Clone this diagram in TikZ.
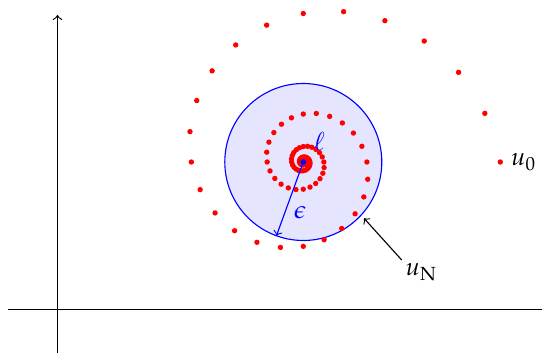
\documentclass[tikz,border=0pt]{standalone}
\usepackage{mathpazo}
\usetikzlibrary{calc}
\begin{document}
\begin{tikzpicture}[x=0.4pt,y=0.4pt,
  reddot/.style={fill=red},
  axis/.style={line width=0.5pt},
  lbl/.style={inner sep=0pt}]
\useasboundingbox (0,0) rectangle (542,353);
% axes
\coordinate (xl) at (8.3,43.7);
\coordinate (xr) at (542,43.7);
\coordinate (yb) at (57.5,0);
\coordinate (yt) at (57.5,338);
\draw[axis] (xl) -- (xr);
\draw[axis,->] (yb) -- (yt);
% neighbourhood
\coordinate (c) at (303.3,191);
\filldraw[draw=blue,fill=blue!10,line width=0.45pt] (c) circle (78.5);
% spiral of iterates
\foreach \k in {0,...,160}{
  \pgfmathsetmacro{\r}{197*pow(0.954,\k)}
  \pgfmathsetmacro{\a}{15*\k}
  \fill[reddot] ($(c)+(\a:\r)$) circle (2.7);
}
% labels
\coordinate (u0pt) at (500.3,191);
\node[lbl,anchor=base west] (u0) at (510.5,187) {$u_{\mathrm{0}}$};
\node[lbl,anchor=base west] (uN) at (405,77) {$u_{\mathrm{N}}$};
\coordinate (uNfrom) at (401.7,93);
\coordinate (uNtip) at (364,134.7);
\draw[->,line width=0.45pt] (uNfrom) -- (uNtip);
% epsilon radius
\coordinate (e) at ($(c)+(250:78.5)$);
\draw[blue,->,line width=0.45pt] (c) -- (e);
\fill[blue] (c) circle (2.8);
\node[lbl,text=blue] (eps) at (300.3,140.3) {$\epsilon$};
\node[lbl,text=blue] (ell) at (319.3,211.3) {$\ell$};
\end{tikzpicture}
\end{document}
